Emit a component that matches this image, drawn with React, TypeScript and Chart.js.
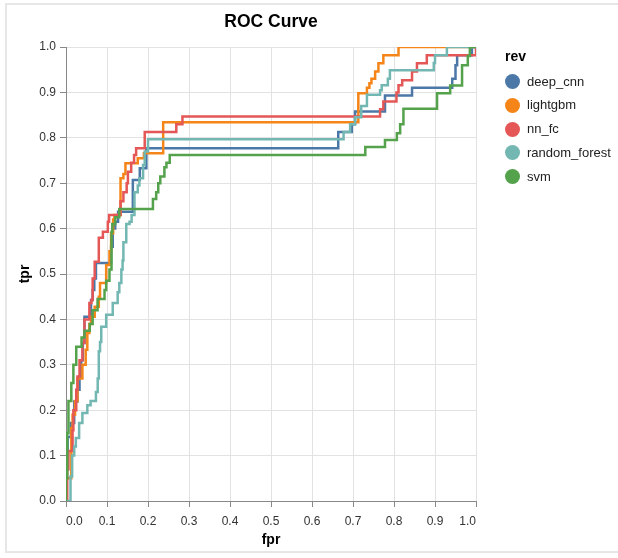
import React, { useEffect, useRef } from "react";
import { Chart, registerables } from "chart.js";

Chart.register(...registerables);

const chartTitle = "ROC Curve";
const xTitle = "fpr";
const yTitle = "tpr";
const legendTitle = "rev";
const seriesNames = ["deep_cnn", "lightgbm", "nn_fc", "random_forest", "svm"];
const seriesColors = ["#4c78a8", "#f58518", "#e45756", "#72b7b2", "#54a24b"];

// Each pair: at this fpr the curve rises to this tpr (after moving horizontally from the previous point).
const deepCnnFpr = [0, 0.002, 0.004, 0.012, 0.02, 0.028, 0.033, 0.037, 0.041, 0.045, 0.061, 0.065, 0.069, 0.073, 0.11, 0.114, 0.12, 0.127, 0.163, 0.18, 0.196, 0.664, 0.697, 0.705, 0.778, 0.844, 0.942, 0.95, 0.954, 0.99, 1.0];
const deepCnnTpr = [0.02, 0.07, 0.141, 0.172, 0.219, 0.245, 0.274, 0.31, 0.348, 0.406, 0.443, 0.465, 0.49, 0.524, 0.56, 0.6, 0.615, 0.637, 0.707, 0.733, 0.777, 0.813, 0.83, 0.858, 0.893, 0.91, 0.93, 0.96, 0.982, 1.0, 1.0];

const lightgbmFpr = [0, 0.002, 0.013, 0.016, 0.022, 0.028, 0.04, 0.048, 0.052, 0.057, 0.061, 0.07, 0.08, 0.083, 0.098, 0.106, 0.11, 0.115, 0.118, 0.133, 0.14, 0.145, 0.175, 0.19, 0.237, 0.713, 0.734, 0.74, 0.745, 0.754, 0.762, 0.774, 0.811, 1.0];
const lightgbmTpr = [0.03, 0.05, 0.16, 0.19, 0.22, 0.27, 0.3, 0.333, 0.37, 0.39, 0.406, 0.428, 0.45, 0.48, 0.52, 0.55, 0.59, 0.62, 0.63, 0.711, 0.72, 0.744, 0.755, 0.766, 0.834, 0.898, 0.91, 0.92, 0.93, 0.946, 0.964, 0.982, 1.0, 1.0];

const nnFcFpr = [0.003, 0.006, 0.016, 0.018, 0.025, 0.028, 0.033, 0.04, 0.045, 0.057, 0.062, 0.065, 0.07, 0.08, 0.09, 0.102, 0.105, 0.133, 0.14, 0.148, 0.151, 0.159, 0.166, 0.171, 0.192, 0.269, 0.284, 0.766, 0.774, 0.806, 0.811, 0.82, 0.844, 0.856, 0.88, 1.0];
const nnFcTpr = [0.07, 0.11, 0.156, 0.2, 0.245, 0.274, 0.31, 0.348, 0.4, 0.436, 0.443, 0.49, 0.527, 0.58, 0.593, 0.615, 0.63, 0.66, 0.68, 0.7, 0.725, 0.745, 0.762, 0.777, 0.813, 0.83, 0.847, 0.863, 0.88, 0.9, 0.916, 0.927, 0.946, 0.964, 0.982, 1.0];

const randomForestFpr = [0.011, 0.015, 0.02, 0.024, 0.032, 0.04, 0.052, 0.06, 0.073, 0.076, 0.078, 0.08, 0.083, 0.086, 0.098, 0.114, 0.126, 0.13, 0.135, 0.138, 0.14, 0.147, 0.155, 0.16, 0.167, 0.175, 0.179, 0.188, 0.192, 0.2, 0.677, 0.693, 0.705, 0.72, 0.734, 0.766, 0.77, 0.785, 0.79, 0.897, 0.9, 0.929, 1.0];
const randomForestTpr = [0.054, 0.1, 0.12, 0.139, 0.172, 0.194, 0.211, 0.22, 0.24, 0.252, 0.27, 0.33, 0.35, 0.384, 0.41, 0.436, 0.46, 0.48, 0.51, 0.53, 0.57, 0.61, 0.615, 0.63, 0.68, 0.695, 0.711, 0.74, 0.77, 0.797, 0.813, 0.83, 0.845, 0.87, 0.895, 0.905, 0.916, 0.93, 0.949, 0.965, 0.982, 1.0, 1.0];

const svmFpr = [0, 0.003, 0.006, 0.013, 0.018, 0.025, 0.038, 0.045, 0.058, 0.065, 0.077, 0.094, 0.098, 0.106, 0.111, 0.113, 0.12, 0.13, 0.212, 0.22, 0.225, 0.23, 0.24, 0.245, 0.253, 0.73, 0.778, 0.807, 0.815, 0.823, 0.905, 0.937, 0.966, 0.98, 0.985, 1.0];
const svmTpr = [0.05, 0.15, 0.22, 0.26, 0.3, 0.34, 0.36, 0.375, 0.39, 0.42, 0.445, 0.465, 0.485, 0.51, 0.593, 0.61, 0.625, 0.643, 0.665, 0.68, 0.7, 0.715, 0.735, 0.745, 0.762, 0.78, 0.795, 0.81, 0.83, 0.864, 0.898, 0.915, 0.96, 0.98, 1.0, 1.0];

const xTickStep = 0.1;
const yTickStep = 0.1;

const seriesFpr = [deepCnnFpr, lightgbmFpr, nnFcFpr, randomForestFpr, svmFpr];
const seriesTpr = [deepCnnTpr, lightgbmTpr, nnFcTpr, randomForestTpr, svmTpr];

function toSteps(fpr: number[], tpr: number[]) {
  const pts: { x: number; y: number }[] = [{ x: 0, y: 0 }];
  let prev = 0;
  for (let i = 0; i < fpr.length; i++) {
    pts.push({ x: fpr[i], y: prev });
    pts.push({ x: fpr[i], y: tpr[i] });
    prev = tpr[i];
  }
  return pts;
}

const FONT = "'Liberation Sans', Arial, Helvetica, sans-serif";

export default function App() {
  const canvasRef = useRef<HTMLCanvasElement | null>(null);

  useEffect(() => {
    if (!canvasRef.current) return;
    const datasets = seriesNames.map((name, i) => ({
      label: name,
      data: toSteps(seriesFpr[i], seriesTpr[i]),
      borderColor: seriesColors[i],
      backgroundColor: seriesColors[i],
      borderWidth: 2.5,
      pointRadius: 0,
      pointHoverRadius: 0,
      tension: 0,
      fill: false,
      borderJoinStyle: "miter" as const,
      borderCapStyle: "butt" as const,
      order: seriesNames.length - i,
    }));

    const chart = new Chart(canvasRef.current, {
      type: "line",
      data: { datasets },
      options: {
        animation: false,
        responsive: false,
        parsing: true,
        layout: { padding: { left: 0, right: 142, top: 0, bottom: 0 } },
        plugins: {
          legend: { display: false },
          tooltip: { enabled: false },
          title: {
            display: true,
            text: chartTitle,
            fullSize: false,
            color: "#000",
            font: { family: FONT, size: 17.5, weight: "bold", lineHeight: 1.2 },
            padding: { top: 11.5, bottom: 14.5 },
          },
        },
        scales: {
          x: {
            type: "linear",
            min: 0,
            max: 1,
            afterFit: (s: any) => {
              s.height = 57;
            },
            ticks: {
              stepSize: xTickStep,
              autoSkip: false,
              maxRotation: 0,
              align: "inner",
              padding: 7,
              color: "#333",
              font: { family: FONT, size: 12 },
              callback: (v: any) => Number(v).toFixed(1),
            },
            grid: { color: "#e2e2e2", lineWidth: 1, tickLength: 6, tickColor: "#888" },
            border: { display: true, color: "#888", width: 1 },
            title: {
              display: true,
              text: xTitle,
              color: "#000",
              font: { family: FONT, size: 14, weight: "bold", lineHeight: 1.2 },
              padding: { top: 0, bottom: 9.6 },
            },
          },
          y: {
            type: "linear",
            min: 0,
            max: 1,
            afterFit: (s: any) => {
              s.width = 66;
            },
            ticks: {
              stepSize: yTickStep,
              autoSkip: false,
              padding: 4,
              color: "#333",
              font: { family: FONT, size: 12 },
              callback: (v: any) => Number(v).toFixed(1),
            },
            grid: { color: "#e2e2e2", lineWidth: 1, tickLength: 6, tickColor: "#888" },
            border: { display: true, color: "#888", width: 1 },
            title: {
              display: true,
              text: yTitle,
              color: "#000",
              font: { family: FONT, size: 14, weight: "bold", lineHeight: 1.2 },
              padding: { top: 16.6, bottom: 0 },
            },
          },
        },
      },
    });
    return () => chart.destroy();
  }, []);

  const rowTop = 81.7;
  const rowStep = 23.7;

  return (
    <div
      style={{
        position: "fixed",
        left: 0,
        top: 0,
        width: 618,
        height: 558,
        overflow: "hidden",
        background: "#fff",
        fontFamily: FONT,
      }}
    >
      <div
        style={{
          position: "absolute",
          left: 5,
          top: 3,
          width: 640,
          height: 550,
          border: "2px solid #e6e6e6",
          boxSizing: "border-box",
        }}
      />
      <canvas
        ref={canvasRef}
        width={618}
        height={558}
        style={{ position: "absolute", left: 0, top: 0, width: 618, height: 558 }}
      />
      <div
        style={{
          position: "absolute",
          left: 505,
          top: 56 - 9,
          height: 18,
          lineHeight: "18px",
          fontSize: 14,
          fontWeight: "bold",
          color: "#000",
        }}
      >
        {legendTitle}
      </div>
      {seriesNames.map((name, i) => (
        <div
          key={name}
          style={{
            position: "absolute",
            left: 505,
            top: rowTop + i * rowStep - 9,
            height: 18,
            display: "flex",
            alignItems: "center",
            whiteSpace: "nowrap",
          }}
        >
          <span
            style={{
              display: "inline-block",
              width: 15,
              height: 15,
              borderRadius: "50%",
              background: seriesColors[i],
              marginRight: 7,
            }}
          />
          <span style={{ fontSize: 13, color: "#222", lineHeight: "18px" }}>{name}</span>
        </div>
      ))}
    </div>
  );
}
